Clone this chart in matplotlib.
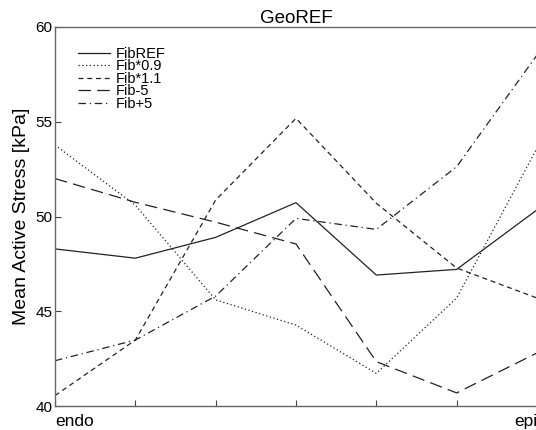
import numpy as np
import matplotlib.pyplot as plt

plt.rcParams['font.family'] = ['Liberation Sans', 'DejaVu Sans']

# transmural positions, endo -> epi
pos = np.arange(7)
xlabels = ['endo', '', '', '', '', '', 'epi']

fib_ref = [48.29, 47.8, 48.9, 50.73, 46.91, 47.21, 50.35]
fib_09 = [53.77, 50.6, 45.6, 44.27, 41.72, 45.7, 53.6]
fib_11 = [40.55, 43.48, 50.87, 55.18, 50.7, 47.28, 45.7]
fib_m5 = [52.0, 50.75, 49.7, 48.55, 42.34, 40.69, 42.8]
fib_p5 = [42.39, 43.48, 45.8, 49.9, 49.32, 52.63, 58.52]

names = ['FibREF', 'Fib*0.9', 'Fib*1.1', 'Fib-5', 'Fib+5']
styles = ['-', (0, (1, 2)), (0, (4, 3)), (0, (10, 5)), (0, (6, 3, 1, 3))]

fig = plt.figure(figsize=(5.36, 4.30), dpi=100)
ax = fig.add_axes([55 / 536, 24 / 430, 482 / 536, 379 / 430])

for vals, nm, ls in zip([fib_ref, fib_09, fib_11, fib_m5, fib_p5], names, styles):
    ax.plot(pos, vals, color='#222222', lw=0.9, linestyle=ls, label=nm)

ax.set_xlim(0, 6)
ax.set_ylim(40, 60)
ax.set_yticks([40, 45, 50, 55, 60])
ax.set_xticks(pos)
ax.set_xticklabels(xlabels, fontsize=12.5)
ax.get_xticklabels()[0].set_ha('left')
ax.get_xticklabels()[-1].set_ha('right')
ax.tick_params(axis='both', direction='in', length=4, color='#444444', top=False, right=False)
ax.tick_params(axis='y', labelsize=11, pad=2)
ax.tick_params(axis='x', pad=6)

for s in ['left', 'bottom', 'top']:
    ax.spines[s].set_color('#666666')
    ax.spines[s].set_linewidth(1.0)
ax.spines['right'].set_visible(False)

ax.set_title('GeoREF', fontsize=13.5, pad=3)
ax.set_ylabel('Mean Active Stress [kPa]', fontsize=14, labelpad=4)

ax.legend(loc='upper left', frameon=False, fontsize=10.5, handlelength=2.2,
          handletextpad=0.4, labelspacing=-0.1, borderaxespad=0.0,
          bbox_to_anchor=(0.035, 0.963))

fig.savefig('out.png', dpi=100)
